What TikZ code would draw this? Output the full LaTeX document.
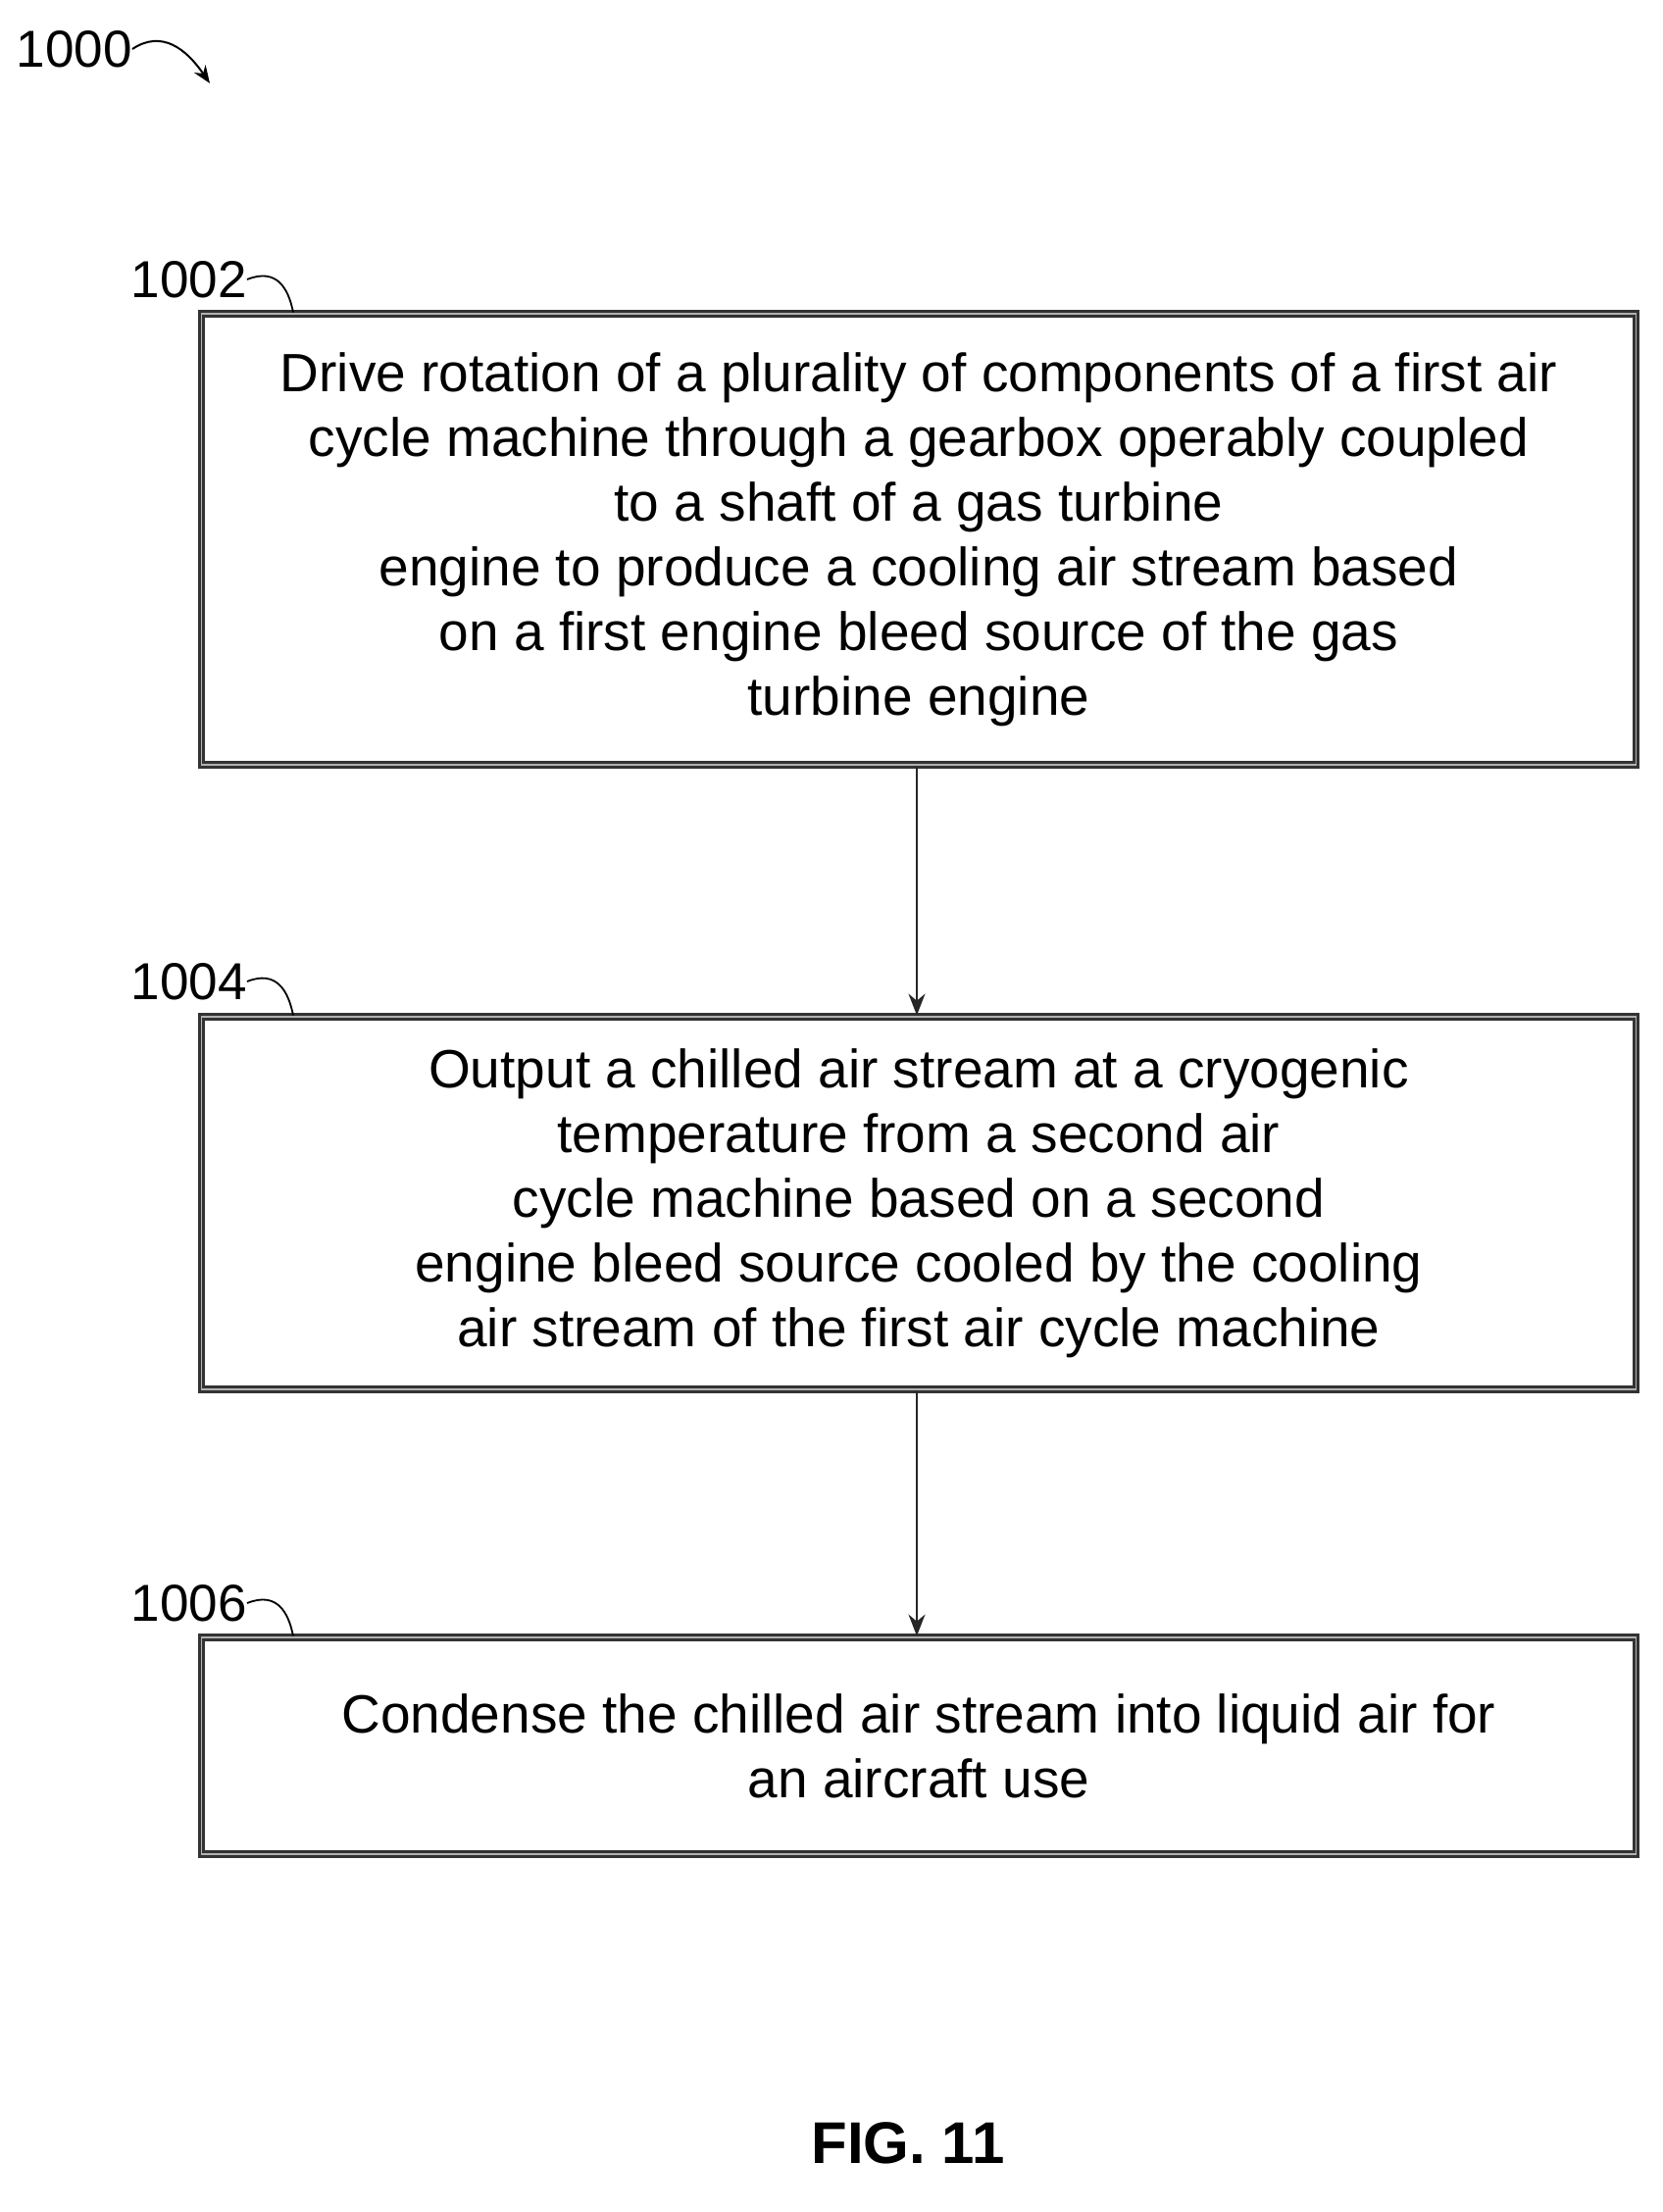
\documentclass[tikz,border=0pt]{standalone}
\usepackage{fontspec}
\setmainfont[FakeStretch=1.0]{Liberation Sans}
\usetikzlibrary{arrows.meta,calc}
\begin{document}
\begin{tikzpicture}[x=1pt,y=-1pt,
 stepbox/.style={draw=black!80,line width=3pt,inner sep=0pt,minimum width=1463pt,align=center,font=\fontsize{55}{66}\selectfont,
   double=black!30,double distance=1.2pt},
 lbl/.style={font=\fontsize{53}{60}\selectfont,anchor=east,inner sep=0pt},
 arr/.style={draw=black!85,line width=2pt,-{Stealth[length=22pt,width=17pt]}}]
\useasboundingbox (0,0) rectangle (1695,2256);
\node[lbl] (l0) at (135,50) {1000};
\coordinate (a0) at (214,85);
\draw[line width=2pt,-{Stealth[length=18pt,width=14pt]}] (l0.east) .. controls (165,30) and (190,50) .. (a0);
\node[stepbox,minimum height=460pt] (b1) at (937,550) {Drive rotation of a plurality of components of a first air\\cycle machine through a gearbox operably coupled\\to a shaft of a gas turbine\\engine to produce a cooling air stream based\\on a first engine bleed source of the gas\\turbine engine};
\node[stepbox,minimum height=380pt] (b2) at (937,1227) {Output a chilled air stream at a cryogenic\\temperature from a second air\\cycle machine based on a second\\engine bleed source cooled by the cooling\\air stream of the first air cycle machine};
\node[stepbox,minimum height=221pt] (b3) at (937,1780.5) {Condense the chilled air stream into liquid air for\\an aircraft use};
\draw[arr] (b1.south -| 935,0) -- (b2.north -| 935,0);
\draw[arr] (b2.south -| 935,0) -- (b3.north -| 935,0);
\node[lbl] (l1) at (252,285) {1002};
\node[lbl] (l2) at (252,1001) {1004};
\node[lbl] (l3) at (252,1635) {1006};
\foreach \l/\b in {l1/b1,l2/b2,l3/b3}
  \draw[line width=1.8pt] (\l.east) .. controls ++(30,-12) and ++(-5,-25) .. ($(\b.north west)+(95,0)$);
\node[font=\bfseries\fontsize{60}{70}\selectfont] (fig) at (926,2186) {FIG. 11};
\end{tikzpicture}
\end{document}
